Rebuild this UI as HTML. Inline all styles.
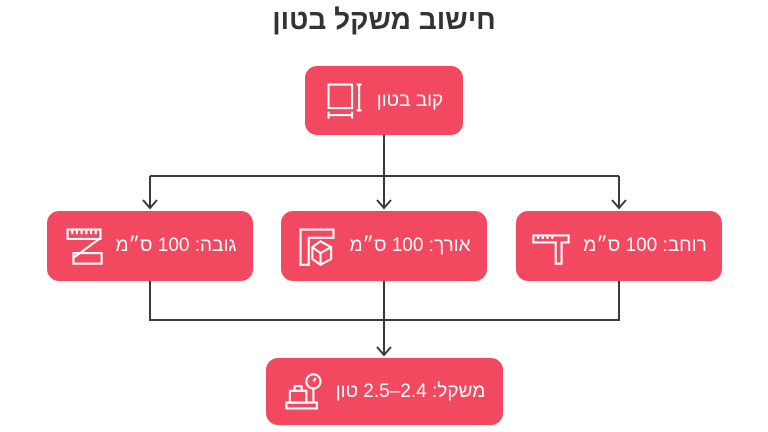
<!DOCTYPE html>
<html><head><meta charset="utf-8"><style>
body{margin:0;width:768px;height:432px;background:#fff;overflow:hidden;font-family:"Liberation Sans","Noto Sans CJK SC",sans-serif;position:relative}
.t{position:absolute;top:4px;left:0;width:768px;text-align:center;font-size:28px;font-weight:bold;color:#333}
.b{position:absolute;background:#f24960;border-radius:12px;color:#fff;font-size:19px;display:flex;align-items:center;justify-content:center;gap:12px;direction:ltr}
svg.i{width:40px;height:40px}
</style></head><body>
<div class="t">חישוב משקל בטון</div>
<svg width="768" height="432" style="position:absolute;left:0;top:0" fill="none" stroke="#3a3a3a" stroke-width="2">
<path d="M384 135V208M150 176H619M150 176V208M619 176V208M150 281V320H619V281M384 281V355"/>
<path d="M143 200L150 208L157 200M377 200L384 208L391 200M612 200L619 208L626 200M377 347L384 355L391 347"/>
</svg>
<div class="b" style="left:305px;top:66px;width:158px;height:69px">
<svg class="i" viewBox="0 0 34 34" stroke="#fff" stroke-width="1.8" fill="none"><rect x="3" y="3" width="20" height="20"/><path d="M3 29H23M3 26V32M23 26V32M29 3V25M27 3H31M27 25H31"/></svg>
<span dir="rtl">קוב בטון</span></div>
<div class="b" style="left:47px;top:211px;width:206px;height:70px">
<svg class="i" viewBox="0 0 34 34" stroke="#fff" stroke-width="1.8" fill="none"><rect x="3" y="3" width="28" height="8"/><path d="M7 3V7M11 3V7M15 3V7M19 3V7M23 3V7M27 3V7M30 11L8 27"/><rect x="8" y="23" width="24" height="9"/></svg>
<span dir="rtl">גובה: 100 ס״מ</span></div>
<div class="b" style="left:281px;top:211px;width:206px;height:70px">
<svg class="i" viewBox="0 0 34 34" stroke="#fff" stroke-width="1.8" fill="none"><path d="M3 3H31V10H10V33H3Z"/><path d="M20 13L29 18V28L20 33L13 28V18Z M13 18L20 23L29 18M20 23V33"/></svg>
<span dir="rtl">אורך: 100 ס״מ</span></div>
<div class="b" style="left:516px;top:211px;width:206px;height:70px">
<svg class="i" viewBox="0 0 34 34" stroke="#fff" stroke-width="1.8" fill="none"><path d="M2 8H32V14H26V32H21V14H2Z"/><path d="M6 8V11M10 8V11M14 8V11M18 8V11"/></svg>
<span dir="rtl">רוחב: 100 ס״מ</span></div>
<div class="b" style="left:266px;top:358px;width:237px;height:67px">
<svg class="i" viewBox="0 0 34 34" stroke="#fff" stroke-width="1.8" fill="none"><circle cx="25" cy="8" r="6"/><path d="M25 8L27 5M25 14V26"/><rect x="5" y="16" width="14" height="10"/><path d="M9 16V12H15V16M2 26H28V31H2Z"/></svg>
<span dir="rtl">משקל: 2.4–2.5 טון</span></div>
</body></html>
